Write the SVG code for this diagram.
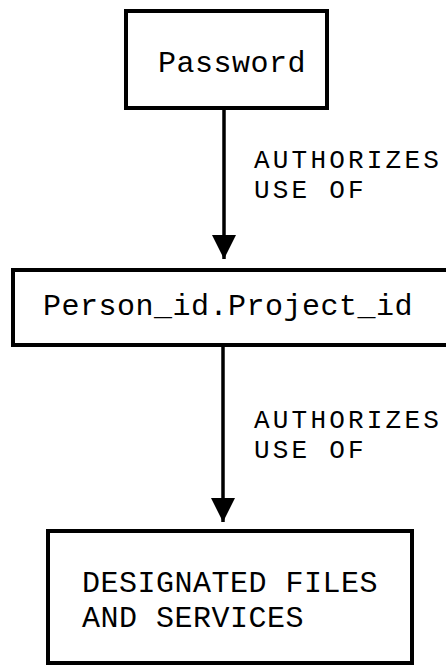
<svg xmlns="http://www.w3.org/2000/svg" width="446" height="666" viewBox="0 0 446 666">
<style>
.box{fill:#fff;stroke:#000;stroke-width:4}
.t{font-family:"Liberation Mono","Courier New",monospace;font-size:30px;letter-spacing:0.5px;fill:#000}
.l{font-family:"Liberation Mono","Courier New",monospace;font-size:26px;letter-spacing:3.2px;fill:#000}
.c{stroke:#000;stroke-width:3.5;fill:none}
</style>
<defs>
<marker id="ah" viewBox="0 0 10 10" refX="10" refY="5" markerWidth="7" markerHeight="7" markerUnits="strokeWidth" orient="auto">
<path d="M0,0 L10,5 L0,10 z" fill="#000"/>
</marker>
</defs>
<rect width="446" height="666" fill="#fff"/>
<g id="connectors">
<line class="c" x1="224" y1="108" x2="224" y2="259" marker-end="url(#ah)"/>
<line class="c" x1="223" y1="345" x2="223" y2="522" marker-end="url(#ah)"/>
<text class="l" x="254" y="168">AUTHORIZES</text>
<text class="l" x="254" y="198">USE OF</text>
<text class="l" x="254" y="428">AUTHORIZES</text>
<text class="l" x="254" y="458">USE OF</text>
</g>
<g id="password">
<rect class="box" x="126" y="11" width="201" height="97"/>
<text class="t" x="158" y="72">Password</text>
</g>
<g id="person">
<rect class="box" x="13" y="270" width="450" height="75"/>
<text class="t" x="43" y="315">Person_id.Project_id</text>
</g>
<g id="files">
<rect class="box" x="48" y="531" width="364" height="132"/>
<text class="t" x="82" y="592">DESIGNATED FILES</text>
<text class="t" x="82" y="627">AND SERVICES</text>
</g>
</svg>
